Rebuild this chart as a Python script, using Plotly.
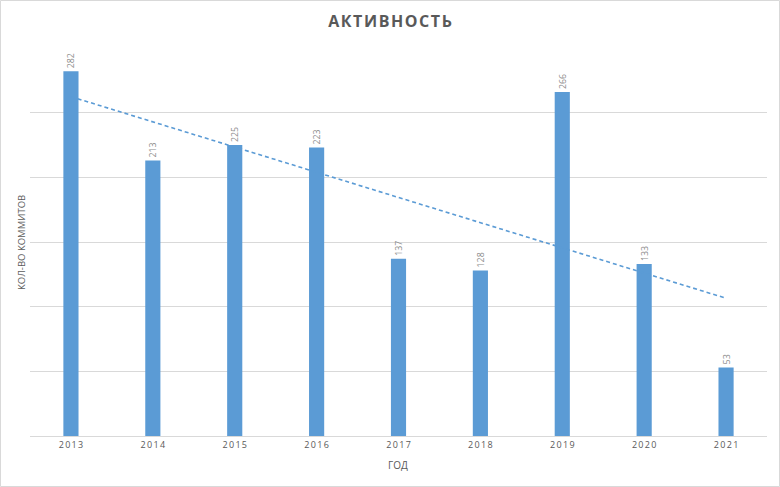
import numpy as np
import plotly.graph_objects as go

years = ["2013", "2014", "2015", "2016", "2017", "2018", "2019", "2020", "2021"]
commits = [282, 213, 225, 223, 137, 128, 266, 133, 53]
title_text = "АКТИВНОСТЬ"
x_title = "ГОД"
y_title = "КОЛ-ВО КОММИТОВ"

BAR = "#5B9BD5"
GREY = "#595959"

# linear trendline (least squares over category index)
idx = np.arange(len(years))
slope, intercept = np.polyfit(idx, commits, 1)
trend = slope * idx + intercept

fig = go.Figure()
fig.add_trace(go.Bar(
    x=years, y=commits,
    marker=dict(color=BAR, line=dict(width=0)),
    text=[str(v) for v in commits],
    textposition="outside",
    textangle=-90,
    textfont=dict(family="Open Sans", size=9, color="#8c8c8c"),
    cliponaxis=False,
    showlegend=False,
))
fig.add_trace(go.Scatter(
    x=years, y=trend, mode="lines",
    line=dict(color=BAR, width=1.6, dash="4px,3px"),
    showlegend=False, hoverinfo="skip",
))

W, H = 780, 487
ml, mr, mt, mb = 30, 13, 48, 51
pw, ph = W - ml - mr, H - mt - mb

def spaced(s, px):
    gap = "<span style='font-size:%dpx'> </span>" % px
    return gap.join(list(s))

fig.update_layout(
    width=W, height=H,
    margin=dict(l=ml, r=mr, t=mt, b=mb, autoexpand=False),
    paper_bgcolor="white", plot_bgcolor="white",
    bargap=0.815,
    title=dict(text="<b>" + spaced(title_text, 6) + "</b>", x=0.5, xref="container", xanchor="center",
               y=1 - 21 / H, yanchor="middle",
               font=dict(family="Open Sans", size=16, color=GREY)),
    xaxis=dict(
        type="category",
        tickvals=years, ticktext=[spaced(y, 5) for y in years],
        tickfont=dict(family="Open Sans", size=9, color=GREY),
        showline=True, linecolor="#d9d9d9", linewidth=1,
        ticks="", showgrid=False,
    ),
    yaxis=dict(
        range=[0, 300], dtick=50, showticklabels=False,
        showgrid=True, gridcolor="#d9d9d9", gridwidth=1,
        zeroline=False, showline=False,
    ),
    annotations=[
        dict(text=x_title, xref="paper", yref="paper", x=(398 - ml) / pw, y=-(465 - (H - mb)) / ph,
             showarrow=False, xanchor="center", yanchor="middle",
             font=dict(family="Open Sans", size=10, color=GREY)),
        dict(text=y_title, xref="paper", yref="paper", x=-(ml - 21) / pw, y=(H - mb - 243) / ph,
             showarrow=False, xanchor="center", yanchor="middle", textangle=-90,
             font=dict(family="Open Sans", size=9.5, color=GREY)),
    ],
    shapes=[
        dict(type="rect", xref="paper", yref="paper",
             x0=-(ml - 0.5) / pw, x1=1 + (mr - 0.5) / pw,
             y0=-(mb - 0.5) / ph, y1=1 + (mt - 0.5) / ph,
             line=dict(color="#d9d9d9", width=1), layer="below"),
    ],
)

fig.write_html("out.html", config={"displayModeBar": False},
               post_script="document.body.style.margin='0';document.body.style.padding='0';")
